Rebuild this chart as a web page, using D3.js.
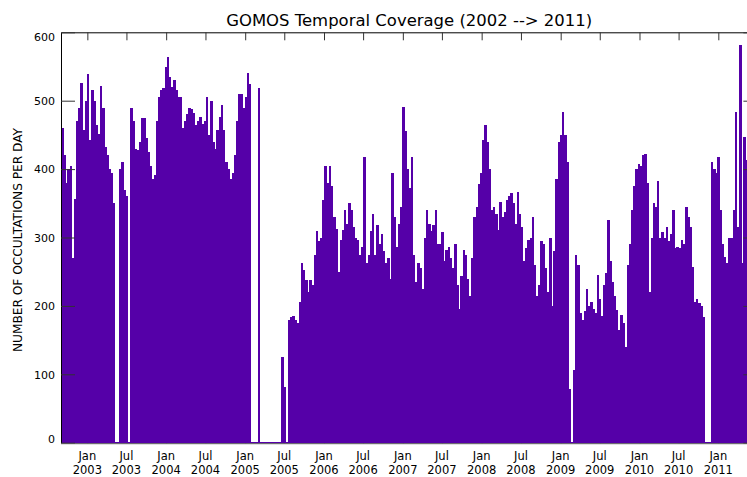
<!DOCTYPE html>
<html><head><meta charset="utf-8">
<script src="https://cdn.jsdelivr.net/npm/d3@7"></script>
<style>body{margin:0;background:#fff} svg{display:block}</style>
</head><body><svg id="c" width="747" height="477"></svg>
<script>
// ---- data (10-day bins starting 2002-09-01, max occultations per day) ----
const startDate = "2002-09-01";
const endDate = "2011-07-01";
const binDays = 10;
const counts = [
 460,420,380,400,405,270,357,470,490,526,
 457,500,539,442,516,500,464,452,522,490,
 433,420,400,395,350,0,0,400,410,370,
 360,0,490,470,430,428,440,475,475,445,
 425,405,385,392,470,505,515,518,550,564,
 535,520,530,515,505,505,460,470,480,490,
 488,482,465,470,476,466,470,505,450,500,
 440,430,457,476,493,457,410,400,385,394,
 420,470,510,510,490,505,540,525,0,0,
 0,518,0,0,0,0,0,0,0,0,
 0,0,126,82,0,180,184,185,180,175,
 205,262,252,238,220,238,230,275,310,295,
 300,355,405,380,405,375,330,312,250,296,
 311,340,320,350,340,316,300,296,275,286,
 417,262,275,310,334,275,318,290,305,280,
 262,270,240,395,330,286,320,345,491,455,
 400,372,418,275,235,262,255,225,300,340,
 320,310,318,340,290,291,308,265,282,286,
 270,255,291,230,195,243,282,275,240,215,
 270,330,345,378,395,442,465,440,400,340,
 345,335,311,352,330,338,355,360,365,350,
 320,367,335,315,265,285,296,300,330,260,
 215,230,295,290,255,220,300,200,280,385,
 440,450,484,450,410,79,0,106,275,260,
 190,180,192,225,200,205,195,190,245,210,
 185,230,248,325,265,235,215,194,165,187,
 175,140,260,290,340,375,400,408,405,420,
 422,380,220,300,350,345,382,300,308,300,
 316,295,305,340,285,286,285,296,291,345,
 330,315,257,205,210,204,200,184,0,0,
 0,410,400,394,418,340,291,272,262,299,
 300,340,484,316,581,262,447,413
];
const yTicks = [0,100,200,300,400,500,600];
const xTickDates = ["2003-01-01","2003-07-01","2004-01-01","2004-07-01","2005-01-01","2005-07-01",
  "2006-01-01","2006-07-01","2007-01-01","2007-07-01","2008-01-01","2008-07-01","2009-01-01",
  "2009-07-01","2010-01-01","2010-07-01","2011-01-01"];
const xTickMonths = ["Jan","Jul","Jan","Jul","Jan","Jul","Jan","Jul","Jan","Jul","Jan","Jul","Jan","Jul","Jan","Jul","Jan"];
const xTickYears = ["2003","2003","2004","2004","2005","2005","2006","2006","2007","2007","2008","2008","2009","2009","2010","2010","2011"];
const title = "GOMOS Temporal Coverage (2002 --> 2011)";
const yTitle = "NUMBER OF OCCULTATIONS PER DAY";

// ---- drawing ----
const svg = d3.select("#c");
const L = 61, R = 757.4, T = 32.3, B = 442.7;
const parse = d3.utcParse("%Y-%m-%d");
const x = d3.scaleUtc().domain([parse(startDate), parse(endDate)]).range([L, R]);
const y = d3.scaleLinear().domain([0, 600]).range([B, T]);
const purple = "#5500a8";

// bottom ticks (under data)
svg.append("g").attr("transform", `translate(0,${B+0.5})`)
  .call(d3.axisBottom(x).tickValues(xTickDates.map(parse)).tickSize(-8).tickSizeOuter(0).tickFormat(""))
  .call(g => g.select(".domain").remove())
  .call(g => g.selectAll("line").attr("stroke", "#333"));

const bins = counts.map((v, i) => {
  const d0 = d3.utcDay.offset(parse(startDate), i * binDays);
  const d1 = d3.utcDay.offset(parse(startDate), (i + 1) * binDays);
  return {d0, d1, v};
});

// zero baseline of the series
svg.append("line").attr("x1", x(bins[0].d0)).attr("x2", 747)
  .attr("y1", y(0)).attr("y2", y(0)).attr("stroke", purple).attr("stroke-width", 1.2);

svg.append("g").selectAll("rect").data(bins.filter(b => b.v > 0)).join("rect")
  .attr("x", b => x(b.d0))
  .attr("width", b => x(b.d1) - x(b.d0) + 0.35)
  .attr("y", b => y(b.v))
  .attr("height", b => y(0) - y(b.v))
  .attr("fill", purple)
  .attr("shape-rendering", "crispEdges");

// top axis
svg.append("g").attr("transform", `translate(0,${T})`)
  .call(d3.axisTop(x).tickValues(xTickDates.map(parse)).tickSize(-8).tickSizeOuter(0).tickFormat(""))
  .call(g => g.select(".domain").attr("stroke", "#000"))
  .call(g => g.selectAll("line").attr("stroke", "#333"));

// left axis
const yl = svg.append("g").attr("transform", `translate(${L},0)`)
  .call(d3.axisLeft(y).tickValues(yTicks).tickSize(-14).tickSizeOuter(0).tickPadding(6))
  .call(g => g.select(".domain").attr("stroke", "#000"))
  .call(g => g.selectAll("line").attr("stroke", "#333"));
yl.selectAll("text").attr("font-family", "DejaVu Sans").attr("font-size", 11).attr("fill", "#000")
  .attr("dy", d => d === 600 ? "0.75em" : d === 0 ? "-0.05em" : "0.35em");

// right axis
svg.append("g").attr("transform", `translate(${R},0)`)
  .call(d3.axisRight(y).tickValues(yTicks).tickSize(-14).tickSizeOuter(0).tickFormat(""))
  .call(g => g.select(".domain").attr("stroke", "#000"))
  .call(g => g.selectAll("line").attr("stroke", "#333"));

// bottom axis line
svg.append("line").attr("x1", L).attr("x2", R).attr("y1", B + 1).attr("y2", B + 1)
  .attr("stroke", "#555").attr("stroke-width", 1);

// x labels (two lines: month / year)
const xl = svg.append("g").attr("font-family", "DejaVu Sans").attr("font-size", 11.5)
  .attr("text-anchor", "middle").attr("fill", "#000");
xl.selectAll("text.m").data(xTickDates).join("text").attr("class", "m")
  .attr("x", d => x(parse(d))).attr("y", 460.3).text((d, i) => xTickMonths[i]);
xl.selectAll("text.yr").data(xTickDates).join("text").attr("class", "yr")
  .attr("x", d => x(parse(d))).attr("y", 473.8).text((d, i) => xTickYears[i]);

// title
svg.append("text").attr("x", (L + R) / 2).attr("y", 26).attr("text-anchor", "middle")
  .attr("font-family", "DejaVu Sans").attr("font-size", 15.5).attr("fill", "#000")
  .attr("textLength", 366).attr("lengthAdjust", "spacingAndGlyphs").text(title);

// y title
svg.append("text").attr("transform", "translate(22,240) rotate(-90)").attr("text-anchor", "middle")
  .attr("font-family", "DejaVu Sans").attr("font-size", 12).attr("fill", "#000")
  .attr("textLength", 224).attr("lengthAdjust", "spacingAndGlyphs").text(yTitle);
</script></body></html>
